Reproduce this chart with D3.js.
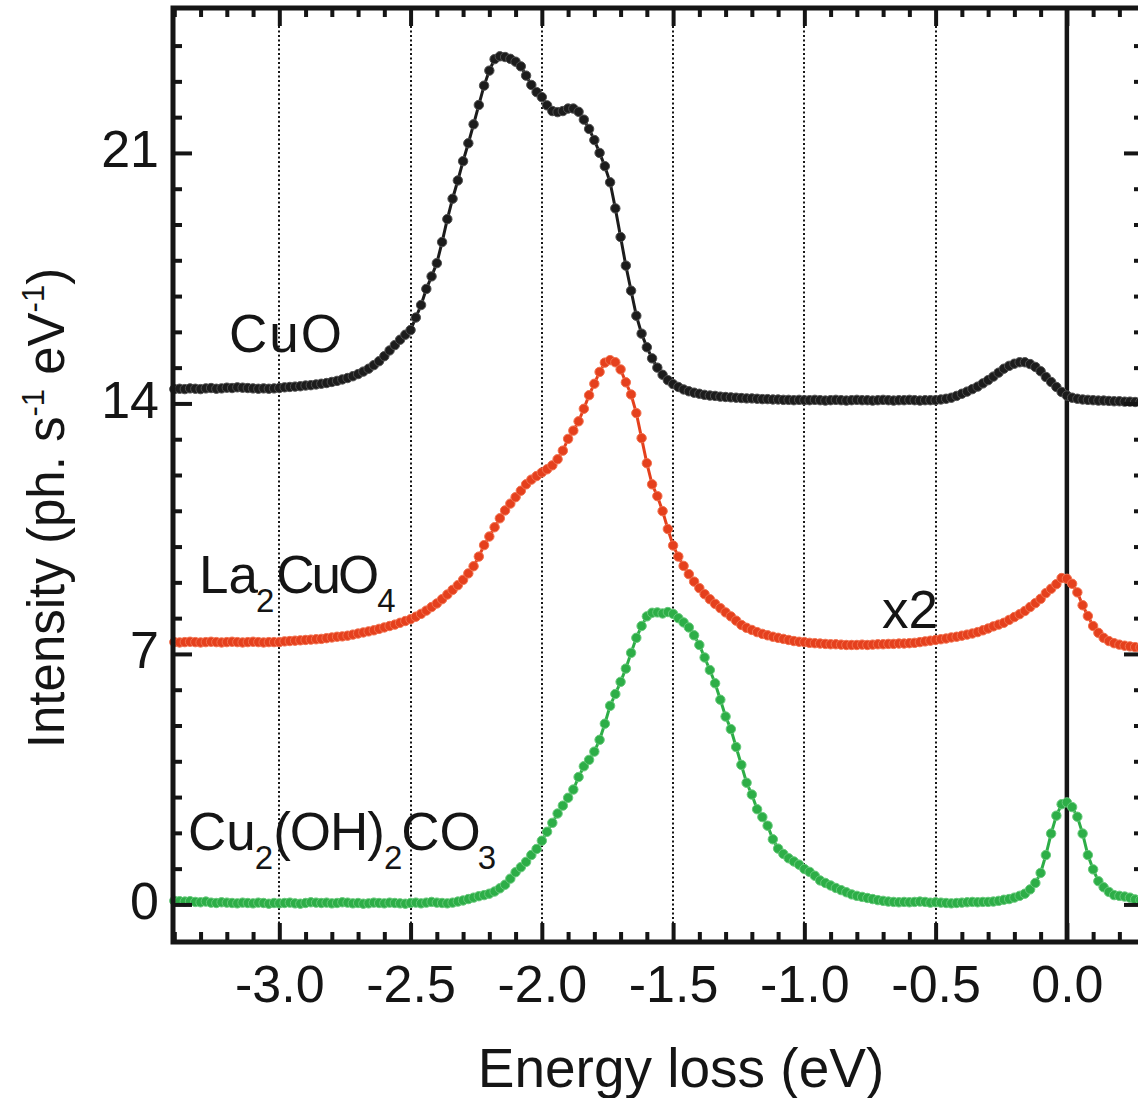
<!DOCTYPE html>
<meta charset="utf-8">
<style>
  body { margin: 0; background: #fff; }
  svg { display: block; font-family: "Liberation Sans", Arial, Helvetica, sans-serif; }
</style>
<body></body>
<script src="https://d3js.org/d3.v7.min.js"></script>
<script>
  const width = 1138
  const height = 1098

  // energy grid of the spectra (eV), one sample every 0.02 eV
  const energyStart = -3.40
  const energyStep = 0.02

  // CuO (black), ph. s-1 eV-1, offset by +14
  const cuo = [
    14.40, 14.41, 14.40, 14.42, 14.41, 14.40, 14.42, 14.43, 14.41, 14.42,
    14.44, 14.43, 14.45, 14.44, 14.43, 14.42, 14.41, 14.42, 14.41, 14.42,
    14.43, 14.45, 14.46, 14.47, 14.48, 14.50, 14.51, 14.53, 14.55, 14.57,
    14.60, 14.63, 14.67, 14.71, 14.76, 14.82, 14.89, 14.97, 15.07, 15.18,
    15.32, 15.48, 15.63, 15.78, 15.92, 16.05, 16.40, 16.75, 17.20, 17.55,
    17.92, 18.51, 19.15, 19.72, 20.23, 20.77, 21.27, 21.80, 22.34, 22.88,
    23.30, 23.62, 23.70, 23.68, 23.63, 23.55, 23.42, 23.16, 22.90, 22.70,
    22.56, 22.33, 22.17, 22.14, 22.17, 22.24, 22.24, 22.15, 21.93, 21.67,
    21.36, 21.00, 20.63, 20.18, 19.45, 18.65, 17.85, 17.15, 16.45, 15.95,
    15.57, 15.26, 15.00, 14.80, 14.65, 14.54, 14.46, 14.39, 14.34, 14.30,
    14.27, 14.24, 14.22, 14.21, 14.19, 14.18, 14.17, 14.16, 14.15, 14.14,
    14.14, 14.13, 14.12, 14.12, 14.11, 14.11, 14.10, 14.10, 14.09, 14.10,
    14.09, 14.09, 14.10, 14.09, 14.08, 14.09, 14.10, 14.09, 14.08, 14.09,
    14.10, 14.09, 14.09, 14.08, 14.09, 14.10, 14.09, 14.08, 14.09, 14.09,
    14.10, 14.09, 14.08, 14.09, 14.09, 14.09, 14.11, 14.13, 14.16, 14.21,
    14.27, 14.33, 14.40, 14.47, 14.56, 14.65, 14.75, 14.86, 14.97, 15.05,
    15.11, 15.15, 15.15, 15.10, 15.02, 14.90, 14.74, 14.60, 14.46, 14.32,
    14.22, 14.16, 14.13, 14.11, 14.10, 14.09, 14.08, 14.08, 14.07, 14.06,
    14.06, 14.05, 14.05, 14.04, 14.04
  ]

  // La2CuO4 (red), offset by +7, scaled x2
  const la2cuo4 = [
    7.33, 7.32, 7.33, 7.34, 7.33, 7.32, 7.33, 7.34, 7.33, 7.32,
    7.33, 7.34, 7.33, 7.32, 7.33, 7.34, 7.33, 7.32, 7.33, 7.33,
    7.33, 7.35, 7.36, 7.37, 7.38, 7.39, 7.40, 7.41, 7.42, 7.44,
    7.46, 7.48, 7.49, 7.51, 7.54, 7.57, 7.60, 7.63, 7.66, 7.70,
    7.74, 7.78, 7.82, 7.87, 7.92, 7.97, 8.04, 8.12, 8.21, 8.31,
    8.41, 8.53, 8.66, 8.79, 8.92, 9.07, 9.25, 9.45, 9.72, 10.04,
    10.28, 10.54, 10.79, 11.01, 11.20, 11.38, 11.56, 11.74, 11.87, 11.97,
    12.07, 12.16, 12.27, 12.44, 12.68, 13.01, 13.24, 13.50, 13.85, 14.23,
    14.55, 14.88, 15.14, 15.21, 15.15, 14.95, 14.59, 14.25, 13.73, 13.03,
    12.33, 11.74, 11.41, 10.99, 10.49, 10.03, 9.72, 9.46, 9.23, 9.02,
    8.84, 8.67, 8.53, 8.40, 8.28, 8.16, 8.05, 7.93, 7.81, 7.73,
    7.67, 7.61, 7.56, 7.52, 7.48, 7.45, 7.42, 7.39, 7.36, 7.34,
    7.33, 7.31, 7.30, 7.29, 7.28, 7.27, 7.27, 7.26, 7.25, 7.25,
    7.25, 7.26, 7.25, 7.26, 7.27, 7.27, 7.28, 7.28, 7.29, 7.29,
    7.30, 7.31, 7.33, 7.35, 7.37, 7.39, 7.41, 7.43, 7.46, 7.48,
    7.51, 7.54, 7.57, 7.61, 7.66, 7.71, 7.77, 7.82, 7.87, 7.95,
    8.03, 8.11, 8.20, 8.31, 8.42, 8.54, 8.70, 8.82, 8.95, 9.12,
    9.10, 8.96, 8.72, 8.36, 8.06, 7.78, 7.59, 7.45, 7.36, 7.30,
    7.26, 7.23, 7.21, 7.19, 7.18
  ]

  // Cu2(OH)2CO3 (green), no offset
  const malachite = [
    0.10, 0.09, 0.08, 0.09, 0.07, 0.06, 0.08, 0.05, 0.04, 0.06,
    0.05, 0.04, 0.03, 0.05, 0.04, 0.03, 0.05, 0.04, 0.02, 0.04,
    0.03, 0.04, 0.05, 0.03, 0.02, 0.04, 0.06, 0.05, 0.04, 0.05,
    0.03, 0.04, 0.06, 0.05, 0.03, 0.04, 0.02, 0.03, 0.05, 0.04,
    0.03, 0.05, 0.04, 0.03, 0.02, 0.04, 0.05, 0.03, 0.05, 0.07,
    0.05, 0.04, 0.03, 0.05, 0.08, 0.11, 0.15, 0.19, 0.23, 0.26,
    0.30, 0.36, 0.45, 0.55, 0.72, 0.90, 1.04, 1.19, 1.38, 1.55,
    1.78, 2.03, 2.28, 2.54, 2.76, 2.98, 3.21, 3.56, 3.86, 4.04,
    4.27, 4.60, 5.05, 5.55, 5.88, 6.22, 6.59, 7.03, 7.45, 7.78,
    8.05, 8.15, 8.16, 8.13, 8.17, 8.12, 8.00, 7.88, 7.74, 7.52,
    7.25, 6.90, 6.55, 6.18, 5.72, 5.25, 4.90, 4.40, 3.90, 3.40,
    3.07, 2.66, 2.44, 2.20, 1.82, 1.56, 1.41, 1.29, 1.20, 1.11,
    0.99, 0.91, 0.80, 0.67, 0.60, 0.53, 0.46, 0.40, 0.34, 0.28,
    0.24, 0.21, 0.18, 0.15, 0.12, 0.10, 0.08, 0.07, 0.06, 0.07,
    0.06, 0.07, 0.08, 0.07, 0.05, 0.06, 0.05, 0.04, 0.03, 0.04,
    0.05, 0.06, 0.07, 0.06, 0.07, 0.07, 0.08, 0.10, 0.13, 0.15,
    0.19, 0.24, 0.30, 0.42, 0.60, 0.88, 1.38, 1.98, 2.48, 2.80,
    2.85, 2.72, 2.45, 1.98, 1.38, 0.98, 0.65, 0.48, 0.35, 0.26,
    0.24, 0.22, 0.19, 0.14, 0.12
  ]

  const xMajorTicks = [-3.0, -2.5, -2.0, -1.5, -1.0, -0.5, 0.0]
  const xGridTicks = [-3.0, -2.5, -2.0, -1.5, -1.0, -0.5]
  const yMajorTicks = [0, 7, 14, 21]

  const series = [
    { name: "Cu2(OH)2CO3", values: malachite, fill: "#2dae47", stroke: "#66c97a" },
    { name: "La2CuO4", values: la2cuo4, fill: "#e5401d", stroke: "#f2714f" },
    { name: "CuO", values: cuo, fill: "#1c1c1c", stroke: "#505050" }
  ]

  const plot = { left: 173, right: 1143, top: 8, bottom: 942 }
  const ink = "#151515"

  const x = d3.scaleLinear()
    .domain([-3.405, 0.29])
    .range([plot.left, plot.right])

  const y = d3.scaleLinear()
    .domain([-1.05, 25.05])
    .range([plot.bottom, plot.top])

  const energy = i => +(energyStart + i * energyStep).toFixed(2)

  const xMinorTicks = d3.range(-34, 3).map(d => d / 10).filter(d => Math.abs(d * 2 - Math.round(d * 2)) > 1e-6)
  const yMinorTicks = d3.range(1, 25).filter(d => d % 7 !== 0)

  const svg = d3.select("body")
    .append("svg")
    .attr("width", width)
    .attr("height", height)

  svg.append("rect")
    .attr("width", width)
    .attr("height", height)
    .attr("fill", "#fff")

  // dotted guide lines (snapped to whole pixels so the dots stay crisp)
  svg.append("g")
    .selectAll("line")
    .data(xGridTicks)
    .join("line")
    .attr("x1", d => Math.round(x(d)))
    .attr("x2", d => Math.round(x(d)))
    .attr("y1", plot.top)
    .attr("y2", plot.bottom)
    .attr("stroke", ink)
    .attr("stroke-width", 2)
    .attr("stroke-dasharray", "2,2.5")

  // elastic line at zero loss
  svg.append("line")
    .attr("x1", x(0))
    .attr("x2", x(0))
    .attr("y1", plot.top)
    .attr("y2", plot.bottom)
    .attr("stroke", ink)
    .attr("stroke-width", 4.5)

  // spectra: connecting line + circle symbols
  const line = d3.line()
    .x((d, i) => x(energy(i)))
    .y(d => y(d))

  series.forEach(s => {
    const g = svg.append("g")
    g.append("path")
      .datum(s.values)
      .attr("d", line)
      .attr("fill", "none")
      .attr("stroke", s.fill)
      .attr("stroke-width", 3)
    g.selectAll("circle")
      .data(s.values)
      .join("circle")
      .attr("cx", (d, i) => x(energy(i)))
      .attr("cy", d => y(d))
      .attr("r", 4.7)
      .attr("fill", s.fill)
      .attr("stroke", s.stroke)
      .attr("stroke-width", 1)
  })

  // axes, ticks pointing inwards
  function styleAxis(g) {
    g.select(".domain").remove()
    g.selectAll(".tick line").attr("stroke", ink).attr("stroke-width", 4)
    g.selectAll(".tick text")
      .attr("fill", ink)
      .style("font-family", "'Liberation Sans', Arial, sans-serif")
      .style("font-size", "52px")
  }

  const fmt = d => d.toFixed(1)

  svg.append("g")
    .attr("transform", `translate(0,${plot.bottom})`)
    .call(d3.axisBottom(x).tickValues(xMinorTicks).tickSize(-10).tickFormat(""))
    .call(styleAxis)

  svg.append("g")
    .attr("transform", `translate(0,${plot.bottom})`)
    .call(d3.axisBottom(x).tickValues(xMajorTicks).tickSize(-19).tickPadding(23).tickFormat(fmt))
    .call(styleAxis)

  svg.append("g")
    .attr("transform", `translate(0,${plot.top})`)
    .call(d3.axisTop(x).tickValues(xMinorTicks).tickSize(-9).tickFormat(""))
    .call(styleAxis)

  svg.append("g")
    .attr("transform", `translate(0,${plot.top})`)
    .call(d3.axisTop(x).tickValues(xMajorTicks).tickSize(-18).tickFormat(""))
    .call(styleAxis)

  svg.append("g")
    .attr("transform", `translate(${plot.left},0)`)
    .call(d3.axisLeft(y).tickValues(yMinorTicks).tickSize(-9).tickFormat(""))
    .call(styleAxis)

  svg.append("g")
    .attr("transform", `translate(${plot.left},0)`)
    .call(d3.axisLeft(y).tickValues(yMajorTicks).tickSize(-19).tickPadding(14).tickFormat(d3.format("d")))
    .call(styleAxis)
    .call(g => g.selectAll(".tick text").attr("dy", "0.27em"))

  svg.append("g")
    .attr("transform", `translate(${plot.right},0)`)
    .call(d3.axisRight(y).tickValues(yMinorTicks).tickSize(-9).tickFormat(""))
    .call(styleAxis)

  svg.append("g")
    .attr("transform", `translate(${plot.right},0)`)
    .call(d3.axisRight(y).tickValues(yMajorTicks).tickSize(-19).tickFormat(""))
    .call(styleAxis)

  // frame
  svg.append("rect")
    .attr("x", plot.left)
    .attr("y", plot.top)
    .attr("width", plot.right - plot.left)
    .attr("height", plot.bottom - plot.top)
    .attr("fill", "none")
    .attr("stroke", ink)
    .attr("stroke-width", 5)

  // axis titles
  svg.append("text")
    .attr("x", 681)
    .attr("y", 1087)
    .attr("text-anchor", "middle")
    .attr("fill", ink)
    .style("font-size", "55px")
    .text("Energy loss (eV)")

  const yTitle = svg.append("text")
    .attr("transform", "translate(64,508) rotate(-90)")
    .attr("text-anchor", "middle")
    .attr("fill", ink)
    .style("font-size", "51px")
  yTitle.append("tspan").text("Intensity (ph. s")
  yTitle.append("tspan").attr("dy", -20).style("font-size", "31px").text("-1")
  yTitle.append("tspan").attr("dy", 20).text(" eV")
  yTitle.append("tspan").attr("dy", -20).style("font-size", "31px").text("-1")
  yTitle.append("tspan").attr("dy", 20).text(")")

  // sample labels
  const label = (xPos, yPos, parts) => {
    const t = svg.append("text")
      .attr("x", xPos)
      .attr("y", yPos)
      .attr("fill", ink)
      .style("font-size", "53px")
    let sub = false
    parts.forEach(p => {
      const span = t.append("tspan").text(p.text)
      if (p.sub) span.style("font-size", "33px")
      const dy = p.sub && !sub ? 19 : (!p.sub && sub ? -19 : 0)
      if (dy) span.attr("dy", dy)
      if (p.dx) span.attr("dx", p.dx)
      if (p.ls) span.attr("letter-spacing", p.ls)
      sub = !!p.sub
    })
  }

  label(229, 352, [{ text: "CuO", ls: 2 }])
  label(199, 593, [
    { text: "La" },
    { text: "2", sub: true, dx: -2 },
    { text: "CuO", dx: 2, ls: -3 },
    { text: "4", sub: true, dx: 1 }
  ])
  label(188, 850, [
    { text: "Cu" },
    { text: "2", sub: true, dx: -1 },
    { text: "(OH)", ls: -1 },
    { text: "2", sub: true, dx: 0 },
    { text: "CO", dx: -1 },
    { text: "3", sub: true, dx: -3 }
  ])
  label(882, 628, [{ text: "x2" }])
</script>
